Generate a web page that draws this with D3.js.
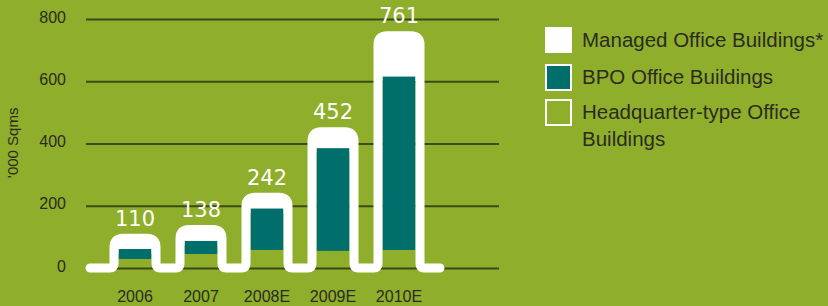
<!DOCTYPE html>
<html>
<head>
<meta charset="utf-8">
<script src="https://cdn.jsdelivr.net/npm/d3@7"></script>
<style>
  html, body { margin: 0; padding: 0; background: #8fae2b; }
  svg { display: block; }
</style>
</head>
<body>
<svg id="chart" width="828" height="306"></svg>
<script>
// data
const years = ['2006', '2007', '2008E', '2009E', '2010E'];
const hqValues = [29, 45, 58, 55, 58];
const bpoValues = [32, 42, 133, 330, 557];
const managedValues = [49, 51, 51, 67, 146];
const totals = [110, 138, 242, 452, 761];
const yTicks = [0, 200, 400, 600, 800];
const legendLabels = ['Managed Office Buildings*', 'BPO Office Buildings', 'Headquarter-type Office Buildings'];

const green = '#8fae2b';
const teal = '#006f6c';
const textColor = '#2b2b22';

const svg = d3.select('#chart');

const x = d3.scaleBand()
    .domain(years)
    .range([102, 432])
    .paddingInner(0.5)
    .paddingOuter(0.25);

const y = d3.scaleLinear()
    .domain([0, 800])
    .range([268, 19]);

// gridlines + tick labels
const grid = svg.append('g')
    .attr('transform', 'translate(86,0)')
    .call(d3.axisLeft(y).tickValues(yTicks).tickSize(-413).tickPadding(20));
grid.select('.domain').remove();
grid.selectAll('.tick line')
    .attr('stroke', '#3b4a17')
    .attr('stroke-width', 2);
grid.selectAll('.tick text')
    .attr('fill', textColor)
    .attr('dy', '0.2em')
    .style('font-family', 'Liberation Sans, Arial, sans-serif')
    .style('font-size', '16px');

svg.append('text')
    .attr('transform', 'translate(18,143) rotate(-90)')
    .attr('text-anchor', 'middle')
    .attr('fill', textColor)
    .style('font-family', 'Liberation Sans, Arial, sans-serif')
    .style('font-size', '15px')
    .text('\u2019000 Sqms');

// x labels
svg.append('g')
    .selectAll('text')
    .data(years)
    .join('text')
    .attr('x', d => x(d) + x.bandwidth() / 2)
    .attr('y', 302)
    .attr('text-anchor', 'middle')
    .attr('fill', textColor)
    .style('font-family', 'Liberation Sans, Arial, sans-serif')
    .style('font-size', '16px')
    .text(d => d);

const rows = years.map((yr, i) => ({
    year: yr,
    hq: hqValues[i],
    bpo: bpoValues[i],
    managed: managedValues[i],
    total: totals[i]
}));

const sw = 9; // white outline width
const half = sw / 2;
const base = y(0);

// white fill for managed part
svg.append('g')
    .selectAll('rect')
    .data(rows)
    .join('rect')
    .attr('x', d => x(d.year) - half)
    .attr('y', d => y(d.total) + half)
    .attr('width', x.bandwidth() + sw)
    .attr('height', d => y(d.hq + d.bpo) - y(d.total))
    .attr('fill', '#fff');

// bpo
svg.append('g')
    .selectAll('rect')
    .data(rows)
    .join('rect')
    .attr('x', d => x(d.year))
    .attr('y', d => y(d.hq + d.bpo))
    .attr('width', x.bandwidth())
    .attr('height', d => y(d.hq) - y(d.hq + d.bpo))
    .attr('fill', teal);

// outline running along the baseline and over each bar
const path = d3.path();
path.moveTo(90, base);
rows.forEach(d => {
    const l = x(d.year) - half;
    const r = x(d.year) + x.bandwidth() + half;
    const t = y(d.total) + half;
    const rad = 9;
    path.lineTo(l - 4, base);
    path.quadraticCurveTo(l, base, l, base - 4);
    path.lineTo(l, t + rad);
    path.quadraticCurveTo(l, t, l + rad, t);
    path.lineTo(r - rad, t);
    path.quadraticCurveTo(r, t, r, t + rad);
    path.lineTo(r, base - 4);
    path.quadraticCurveTo(r, base, r + 4, base);
});
path.lineTo(440, base);

svg.append('path')
    .attr('d', path.toString())
    .attr('fill', 'none')
    .attr('stroke', '#fff')
    .attr('stroke-width', sw)
    .attr('stroke-linecap', 'round')
    .attr('stroke-linejoin', 'round');

// total labels
svg.append('g')
    .selectAll('text')
    .data(rows)
    .join('text')
    .attr('x', d => x(d.year) + x.bandwidth() / 2)
    .attr('y', d => y(d.total) - 8)
    .attr('text-anchor', 'middle')
    .attr('fill', '#fff')
    .style('font-family', 'DejaVu Sans, sans-serif')
    .style('font-size', '21px')
    .text(d => d.total);

// legend
const legend = svg.append('g').attr('transform', 'translate(545,27)');
const swatches = [
    { fill: '#fff', stroke: 'none' },
    { fill: teal, stroke: '#fff' },
    { fill: green, stroke: '#fff' }
];
const ly = [0, 37, 72];
legend.selectAll('rect')
    .data(swatches)
    .join('rect')
    .attr('x', d => d.stroke === 'none' ? 0 : 1)
    .attr('y', (d, i) => ly[i] + (d.stroke === 'none' ? 0 : 1))
    .attr('width', d => d.stroke === 'none' ? 27 : 25)
    .attr('height', d => d.stroke === 'none' ? 26 : 25)
    .attr('fill', d => d.fill)
    .attr('stroke', d => d.stroke)
    .attr('stroke-width', 2);

const lt = legend.selectAll('text')
    .data(legendLabels)
    .join('text')
    .attr('x', 37)
    .attr('y', (d, i) => ly[i] + 20)
    .attr('fill', textColor)
    .style('font-family', 'Liberation Sans, Arial, sans-serif')
    .style('font-size', '20.5px');
lt.each(function (d, i) {
    const t = d3.select(this);
    if (i === 2) {
        t.append('tspan').attr('x', 37).text('Headquarter-type Office');
        t.append('tspan').attr('x', 37).attr('dy', 27).text('Buildings');
    } else {
        t.text(d);
    }
});
</script>
</body>
</html>
